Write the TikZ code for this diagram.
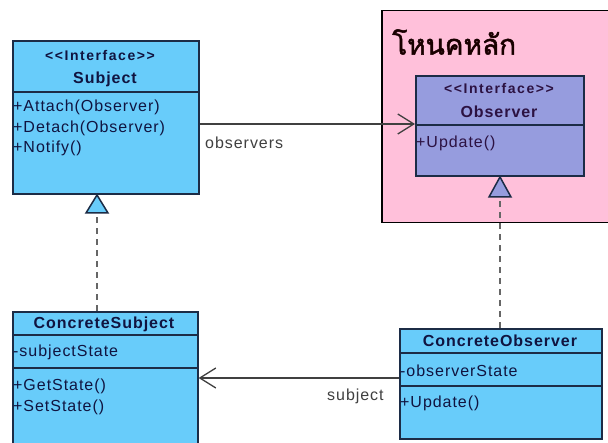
\documentclass[tikz,border=0pt]{standalone}
\usepackage{fontspec}
\setmainfont{Liberation Sans}
\newfontfamily\umlfont[LetterSpace=6]{Liberation Sans}
\newfontfamily\stereofont[LetterSpace=11]{Liberation Sans}
\newfontfamily\thaifont[Script=Thai, FakeBold=1.8]{Loma}
\usetikzlibrary{arrows.meta}

\definecolor{clsfill}{RGB}{104,204,250}
\definecolor{ifacefill}{RGB}{150,156,222}
\definecolor{pkgfill}{RGB}{255,192,218}
\definecolor{clsline}{RGB}{28,44,70}
\definecolor{clstext}{RGB}{16,20,64}
\definecolor{ifacetext}{RGB}{44,18,66}
\definecolor{linkgray}{RGB}{64,64,64}

\tikzset{
  x=1pt, y=-1pt,
  classbox/.style={draw=clsline, line width=1.6pt, fill=clsfill,
    anchor=north west, inner sep=0pt},
  divider/.style={draw=clsline, line width=1.4pt},
  stereo/.style={font=\stereofont\bfseries\fontsize{14}{16}\selectfont, text=clstext, inner sep=0pt},
  cname/.style={font=\umlfont\bfseries\fontsize{16}{18}\selectfont, text=clstext, inner sep=0pt},
  member/.style={font=\umlfont\fontsize{16}{18}\selectfont, text=clstext, inner sep=0pt, anchor=west},
  rolelabel/.style={font=\umlfont\fontsize{16}{18}\selectfont, text=linkgray, inner sep=0pt},
  assoc/.style={draw=linkgray, line width=1.3pt,
    -{Straight Barb[length=16pt, width=20pt, line width=1.3pt]}},
  realize/.style={draw=gray!80!black, line width=2pt, dash pattern=on 6pt off 5pt},
  realtip/.style={draw=clsline, line width=1.5pt, line join=miter},
}

\begin{document}
\begin{tikzpicture}
\clip (0,0) rectangle (608,443);
\fill[white] (0,0) rectangle (608,443);

% package holding the observer interface
\node[draw=black, line width=1.5pt, fill=pkgfill, anchor=north west,
      minimum width=240, minimum height=212, inner sep=0pt] (pkg) at (381,10) {};
\node[font=\thaifont\fontsize{28}{32}\selectfont, text=black!90!red,
      anchor=west, inner sep=0pt] (pkgname) at (392,42) {โหนคหลัก};

% Subject interface
\node[classbox, minimum width=186, minimum height=153] (subj) at (12,40) {};
\draw[divider] (12,92) -- (198,92);
\node[stereo] (subjst) at (100,55) {<<Interface>>};
\node[cname] (subjnm) at (105,79) {Subject};
\node[member] (subjm1) at (13,107) {+Attach(Observer)};
\node[member] (subjm2) at (13,128) {+Detach(Observer)};
\node[member] (subjm3) at (13,148) {+Notify()};

% Observer interface
\node[classbox, fill=ifacefill, minimum width=168, minimum height=100] (obs) at (415,75) {};
\draw[divider] (415,125) -- (583,125);
\node[stereo, text=ifacetext] (obsst) at (499,88) {<<Interface>>};
\node[cname, text=ifacetext] (obsnm) at (499,112) {Observer};
\node[member, text=ifacetext] (obsm1) at (416,143) {+Update()};

% ConcreteSubject
\node[classbox, minimum width=185, minimum height=140] (csubj) at (12,311) {};
\draw[divider] (12,335) -- (197,335);
\draw[divider] (12,368) -- (197,368);
\node[cname] (csubjnm) at (104,324) {ConcreteSubject};
\node[member] (csubja1) at (13,352) {-subjectState};
\node[member] (csubjm1) at (13,386) {+GetState()};
\node[member] (csubjm2) at (13,407) {+SetState()};

% ConcreteObserver
\node[classbox, minimum width=202, minimum height=110] (cobs) at (399,328) {};
\draw[divider] (399,353) -- (601,353);
\draw[divider] (399,386) -- (601,386);
\node[cname] (cobsnm) at (500,341) {ConcreteObserver};
\node[member] (cobsa1) at (400,371) {-observerState};
\node[member] (cobsm1) at (400,403) {+Update()};

% associations
\coordinate (obsA) at (subj.east |- 0,124);
\coordinate (obsB) at (obs.west |- 0,124);
\draw[assoc] (obsA) -- (obsB);
\node[rolelabel, anchor=west] (obsrole) at (205,143) {observers};

\coordinate (subA) at (cobs.west |- 0,378);
\coordinate (subB) at (csubj.east |- 0,378);
\draw[assoc] (subA) -- (subB);
\node[rolelabel, anchor=west] (subrole) at (327,396) {subject};

% realizations
\coordinate (rs1) at (97,311);
\coordinate (rs2) at (97,213);
\draw[realize] (rs1) -- (rs2);
\filldraw[realtip, fill=clsfill] (86,213) -- (97,195) -- (108,213) -- cycle;

\coordinate (ro1) at (500,328);
\coordinate (ro2) at (500,197);
\draw[realize] (ro1) -- (ro2);
\filldraw[realtip, fill=ifacefill] (489,197) -- (500,177) -- (511,197) -- cycle;
\end{tikzpicture}
\end{document}
